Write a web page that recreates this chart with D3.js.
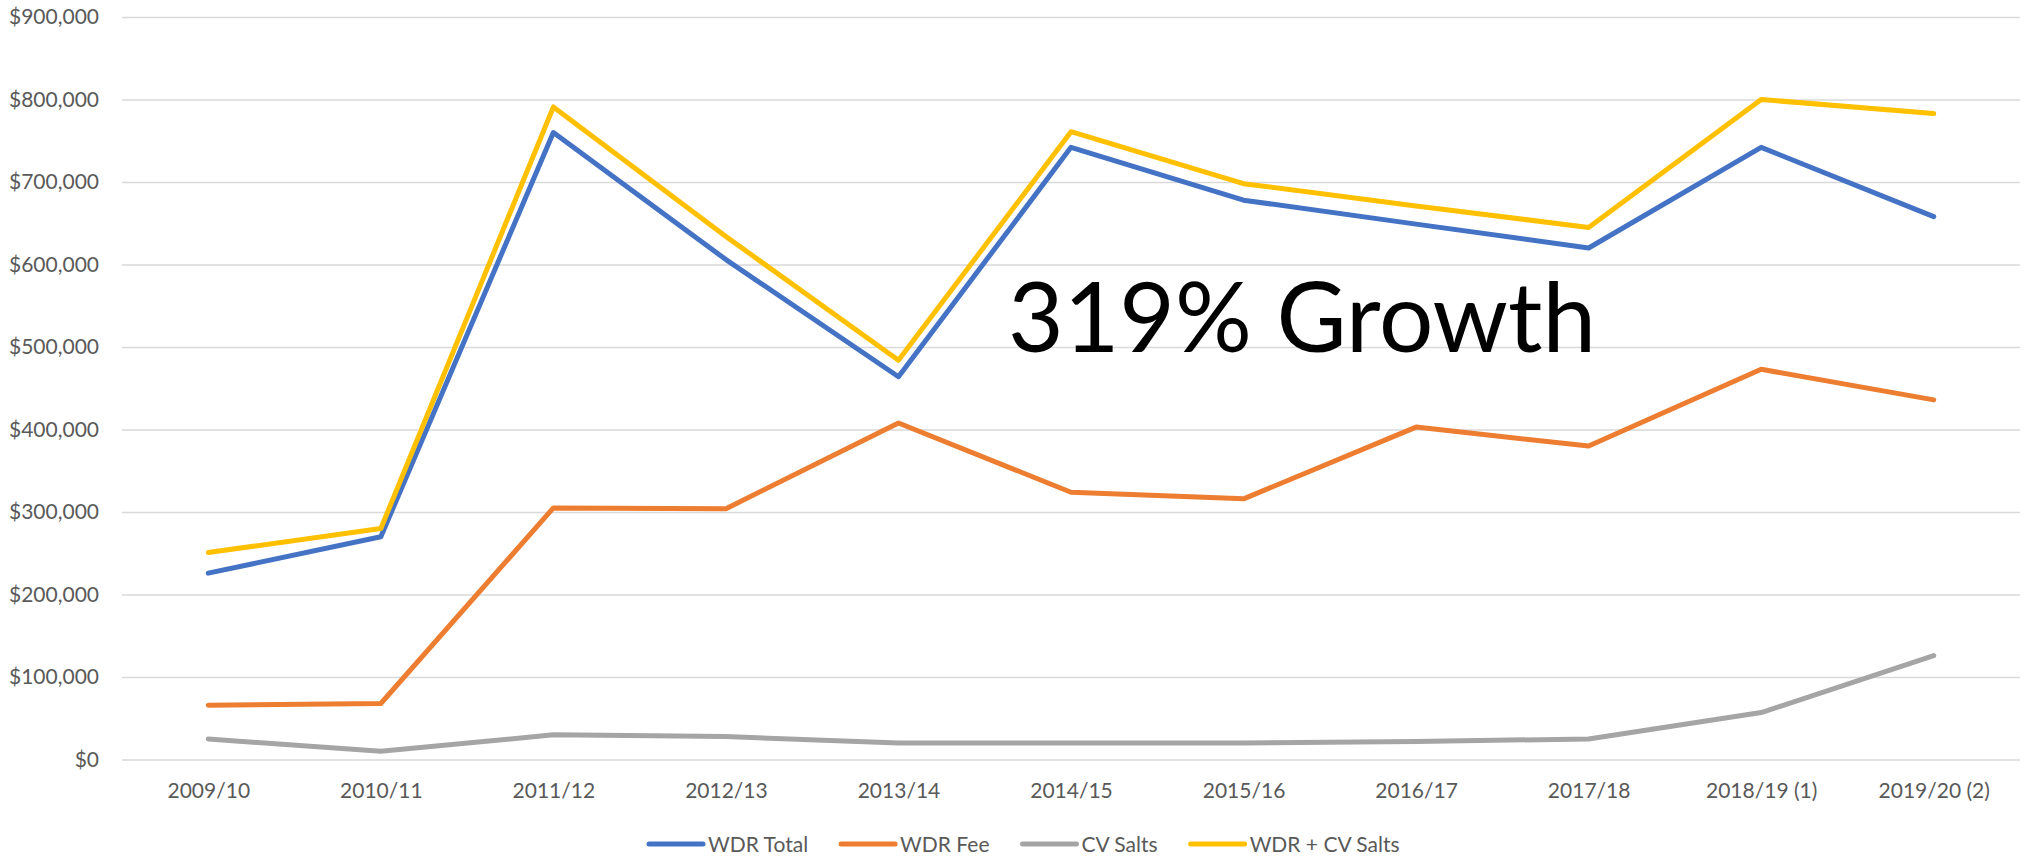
<meta charset="utf-8">
<script src="https://d3js.org/d3.v7.min.js"></script>
<style>
  body { margin: 0; background: #fff; }
  text { font-family: Lato, "Open Sans", sans-serif; }
</style>
<div id="chart"></div>
<script>
  const categories = ["2009/10", "2010/11", "2011/12", "2012/13", "2013/14", "2014/15",
                      "2015/16", "2016/17", "2017/18", "2018/19 (1)", "2019/20 (2)"]
  const wdrTotal  = [226000, 270000, 760000, 606000, 464000, 742000, 678000, 649000, 620000, 742000, 658000]
  const wdrFee    = [66000, 68000, 305000, 304000, 408000, 324000, 316000, 403000, 380000, 473000, 436000]
  const cvSalts   = [25000, 10000, 30000, 28000, 20000, 20000, 20000, 22000, 25000, 57000, 126000]
  const wdrPlusCv = [251000, 280000, 791000, 634000, 484000, 761000, 698000, 671000, 645000, 800000, 783000]
  const yTicks = [0, 100000, 200000, 300000, 400000, 500000, 600000, 700000, 800000, 900000]

  const series = [
    {name: "WDR Total", values: wdrTotal, color: "#4472C4"},
    {name: "WDR Fee", values: wdrFee, color: "#ED7D31"},
    {name: "CV Salts", values: cvSalts, color: "#A5A5A5"},
    {name: "WDR + CV Salts", values: wdrPlusCv, color: "#FFC000"}
  ]

  const width = 2024, height = 857
  const plotLeft = 122, plotRight = 2020, plotTop = 17, plotBottom = 759.6

  const svg = d3.select("#chart").append("svg")
    .attr("width", width)
    .attr("height", height)

  const x = d3.scalePoint().domain(categories).range([plotLeft, plotRight]).padding(0.5)
  const y = d3.scaleLinear().domain([0, 900000]).range([plotBottom, plotTop])

  // gridlines
  svg.append("g")
    .attr("transform", "translate(" + plotLeft + ",0)")
    .call(d3.axisLeft(y).tickValues(yTicks).tickSize(-(plotRight - plotLeft)).tickFormat(""))
    .call(g => g.select(".domain").remove())
    .call(g => g.selectAll("line").attr("stroke", "#D9D9D9").attr("stroke-width", 1.5))

  // y labels
  svg.append("g")
    .attr("transform", "translate(" + plotLeft + ",0)")
    .call(d3.axisLeft(y).tickValues(yTicks).tickSize(0).tickPadding(23)
      .tickFormat(d => "$" + d3.format(",")(d)))
    .call(g => g.select(".domain").remove())
    .call(g => g.selectAll("text").attr("fill", "#595959").style("font-size", "21px"))

  // x labels
  svg.append("g")
    .attr("transform", "translate(0," + plotBottom + ")")
    .call(d3.axisBottom(x).tickSize(0).tickPadding(23))
    .call(g => g.select(".domain").remove())
    .call(g => g.selectAll("text").attr("fill", "#595959").style("font-size", "21px"))

  const line = d3.line()
    .x((d, i) => x(categories[i]))
    .y(d => y(d))

  svg.selectAll(".series")
    .data(series)
    .enter()
    .append("path")
    .attr("class", "series")
    .attr("d", d => line(d.values))
    .attr("fill", "none")
    .attr("stroke", d => d.color)
    .attr("stroke-width", 5)
    .attr("stroke-linejoin", "round")
    .attr("stroke-linecap", "round")

  // annotation
  svg.append("text")
    .attr("x", 1008)
    .attr("y", 352)
    .attr("fill", "#000")
    .style("font-size", "96px")
    .text("319% Growth")

  // legend
  const legend = svg.append("g")
  let lx = 649
  series.forEach(s => {
    legend.append("line")
      .attr("x1", lx).attr("x2", lx + 54)
      .attr("y1", 844).attr("y2", 844)
      .attr("stroke", s.color)
      .attr("stroke-width", 5)
      .attr("stroke-linecap", "round")
    const t = legend.append("text")
      .attr("x", lx + 59)
      .attr("y", 851.5)
      .attr("fill", "#595959")
      .style("font-size", "21px")
      .text(s.name)
    lx += 59 + t.node().getComputedTextLength() + 33
  })
</script>
